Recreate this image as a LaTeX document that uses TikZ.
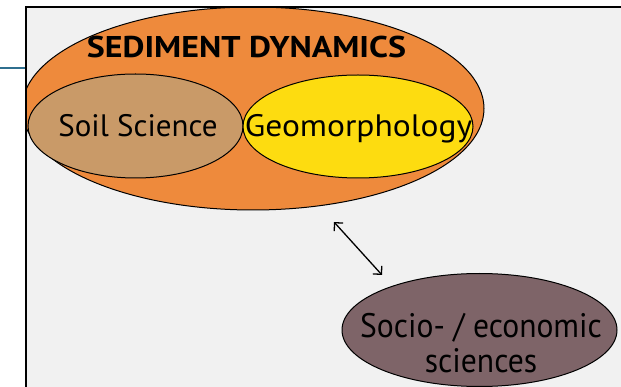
\documentclass[tikz,border=0pt]{standalone}
\usepackage{fontspec}
\setmainfont{PT Sans}
\usetikzlibrary{shapes.geometric,arrows.meta}
\definecolor{bgray}{HTML}{F1F1F1}
\definecolor{sedorange}{HTML}{EE8A3C}
\definecolor{soiltan}{HTML}{C99A68}
\definecolor{geoyellow}{HTML}{FDDC10}
\definecolor{sociomauve}{HTML}{7E6468}
\definecolor{tealline}{HTML}{2F6F8F}
\tikzset{
  blob/.style={ellipse, draw=black, line width=1pt, inner sep=0pt},
  lbl/.style={font=\fontsize{31}{36}\selectfont, inner sep=0pt, anchor=base},
  barbtip/.tip={Straight Barb[length=6pt,width=12pt]},
  link/.style={line width=1.3pt, barbtip-barbtip},
}
\begin{document}
\begin{tikzpicture}[x=1pt,y=-1pt]
\useasboundingbox (0,0) rectangle (621,387);
\fill[white] (0,0) rectangle (621,387);
\fill[bgray] (26,7) rectangle (621,387);
\begin{scope}
\clip (26,7) rectangle (621,387);
\node[blob, fill=sedorange, minimum width=462pt, minimum height=203pt] (sed) at (253,108.5) {};
\node[blob, fill=soiltan, minimum width=215pt, minimum height=104pt] (soil) at (135.5,126) {};
\node[blob, fill=geoyellow, minimum width=230pt, minimum height=103pt] (geo) at (358,126.5) {};
\node[blob, fill=sociomauve, minimum width=275pt, minimum height=113pt] (socio) at (479.5,330) {};
\end{scope}
\node[lbl] (soiltext) at (138,137) {Soil Science};
\node[lbl] (geotext) at (358.5,137) {\scalebox{1.08}[1]{Geomorphology}};
\node[font=\fontsize{30}{36}\bfseries\selectfont, inner sep=0pt, anchor=base] (title) at (246.5,58) {\scalebox{1.13}[1]{SEDIMENT DYNAMICS}};
\node[font=\fontsize{34}{35}\selectfont, align=center, inner sep=0pt, anchor=base] (sociotext) at (481,372) {\scalebox{0.93}[1]{Socio- / economic}\\\scalebox{0.93}[1]{sciences}};
\coordinate (arrA) at (334,222);
\coordinate (arrB) at (382,275);
\draw[link] (arrA) -- (arrB);
\draw[black, line width=2pt] (26,387) -- (26,7) -- (621,7);
\draw[tealline, line width=1.2pt] (0,68) -- (25,68);
\end{tikzpicture}
\end{document}
